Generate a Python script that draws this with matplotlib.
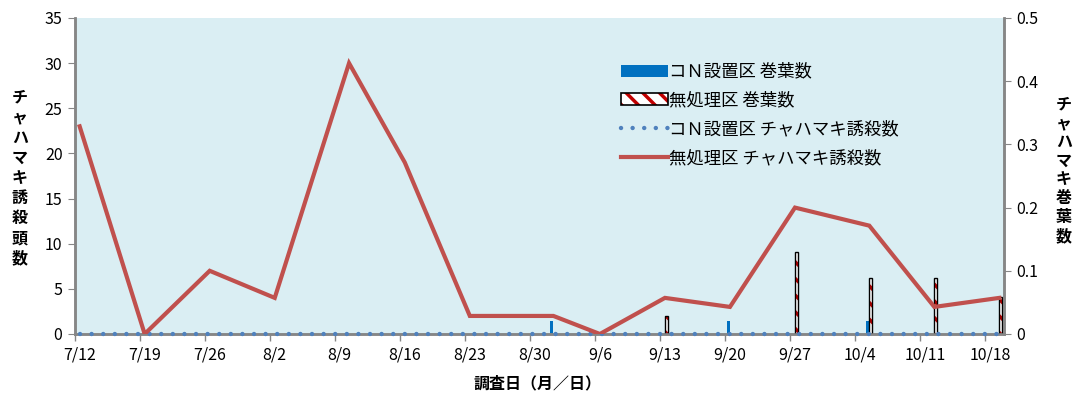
"""
Chahamaki (tea tortrix) trap catch and rolled-leaf counts,
CN-treated plot vs. untreated plot, 7/12 - 10/19.
"""

import pandas as pd
import matplotlib.pyplot as plt
from matplotlib.patches import Patch
from matplotlib.lines import Line2D
from matplotlib.legend_handler import HandlerTuple

plt.rcParams['font.family'] = ['Noto Sans CJK JP', 'DejaVu Sans']
plt.rcParams['hatch.linewidth'] = 2.5

# Survey dates (month/day)
dates = ["7/12", "7/19", "7/26", "8/2", "8/10", "8/16", "8/23", "9/1",
         "9/6", "9/13", "9/20", "9/27", "10/5", "10/12", "10/19"]
# Trap catches (left axis)
cn_moths = [0, 0, 0, 0, 0, 0, 0, 0, 0, 0, 0, 0, 0, 0, 0]
untreated_moths = [23, 0, 7, 4, 30, 19, 2, 2, 0, 4, 3, 14, 12, 3, 4]
# Rolled leaves (right axis)
cn_leaves = [0, 0, 0, 0, 0, 0, 0, 0.02, 0, 0, 0.02, 0, 0.02, 0, 0]
untreated_leaves = [0, 0, 0, 0, 0, 0, 0, 0, 0, 0.029, 0, 0.129, 0.089, 0.089, 0.059]
# Axis tick labels (weekly)
tick_labels = ["7/12", "7/19", "7/26", "8/2", "8/9", "8/16", "8/23", "8/30",
               "9/6", "9/13", "9/20", "9/27", "10/4", "10/11", "10/18"]

start = pd.Timestamp("2013-07-12")
x = [(pd.Timestamp(f"2013/{d}") - start).days for d in dates]
tick_x = [(pd.Timestamp(f"2013/{d}") - start).days for d in tick_labels]

fig = plt.figure(figsize=(10.75, 3.94), dpi=100)
ax2 = fig.add_subplot(111)
ax = ax2.twinx()
fig.subplots_adjust(left=75/1075, right=1004/1075, top=1-18/394, bottom=1-334/394)

# bars on the right-hand axis (drawn behind the lines)
ax2.set_facecolor("#DAEEF3")
bw = 0.32
bx = [v - 0.16 for v, h in zip(x, cn_leaves) if h > 0]
bh = [h for h in cn_leaves if h > 0]
ax2.bar(bx, bh, width=bw, color="#0070C0", zorder=2)
rx = [v + 0.16 for v, h in zip(x, untreated_leaves) if h > 0]
rh = [h for h in untreated_leaves if h > 0]
ax2.bar(rx, rh, width=bw, facecolor="white", edgecolor="#C00000", hatch="\\\\", linewidth=0, zorder=2)
ax2.bar(rx, rh, width=bw, fill=False, edgecolor="black", linewidth=1, zorder=3)

# lines on the left-hand axis
dots = (0, (0.01, 2.6))
ax.set_zorder(ax2.get_zorder() + 1)
ax.patch.set_visible(False)
ax.plot(x, cn_moths, color="#4F81BD", linewidth=3.2, linestyle=dots,
        dash_capstyle="round", zorder=4, clip_on=False)
ax.plot(x, untreated_moths, color="#C0504D", linewidth=3, zorder=5,
        solid_joinstyle="miter")

# swap sides so the count axis is on the left
ax.yaxis.tick_left()
ax.yaxis.set_label_position("left")
ax2.yaxis.tick_right()
ax2.yaxis.set_label_position("right")

ax.set_ylim(0, 35)
ax.set_yticks(range(0, 36, 5))
ax2.set_ylim(0, 0.5)
ax2.set_yticks([0, 0.1, 0.2, 0.3, 0.4, 0.5])
ax2.set_yticklabels(["0", "0.1", "0.2", "0.3", "0.4", "0.5"])
ax2.set_xlim(-0.5, 99.5)
ax2.set_xticks(tick_x)
ax2.set_xticklabels(tick_labels)
ax2.set_xticks([t - 0.5 for t in tick_x], minor=True)
ax2.tick_params(axis="x", which="major", length=0, pad=9, labelsize=11.5)
ax2.tick_params(axis="x", which="minor", length=5, color="#868686", width=1)
ax2.tick_params(axis="y", length=5, color="#868686", labelsize=11.5, pad=4)
ax.tick_params(axis="y", length=5, color="#868686", labelsize=11.5, pad=4)

for a in (ax, ax2):
    a.spines["top"].set_visible(False)
    for s in ("left", "right", "bottom"):
        a.spines[s].set_color("#868686")
        a.spines[s].set_linewidth(1.8)

# stacked vertical axis titles
fig.text(20/1075, 1-178/394, "\n".join("チャハマキ誘殺頭数"), ha="center", va="center",
         fontsize=11.5, fontweight="bold", linespacing=1.32)
fig.text(1064/1075, 1-170/394, "\n".join("チャハマキ巻葉数"), ha="center", va="center",
         fontsize=11.5, fontweight="bold", linespacing=1.22)
fig.text(538/1075, 1-383/394, "調査日（月／日）", ha="center", va="center",
         fontsize=11.5, fontweight="bold")

handles = [
    Patch(facecolor="#0070C0", edgecolor="none"),
    (Patch(facecolor="white", edgecolor="#C00000", hatch="\\\\", linewidth=0),
     Patch(fill=False, edgecolor="black", linewidth=1.2)),
    Line2D([], [], color="#4F81BD", linewidth=3.2, linestyle=dots, dash_capstyle="round"),
    Line2D([], [], color="#C0504D", linewidth=3),
]
labels = ["コＮ設置区 巻葉数", "無処理区 巻葉数", "コＮ設置区 チャハマキ誘殺数", "無処理区 チャハマキ誘殺数"]
ax.legend(handles, labels, loc="upper left", bbox_to_anchor=(612/1075, 1-54/394),
          bbox_transform=fig.transFigure, frameon=False, fontsize=12.5,
          handlelength=2.75, handleheight=0.7, handletextpad=0.05, labelspacing=0.62,
          borderpad=0, handler_map={tuple: HandlerTuple(ndivide=1, pad=0)})

plt.savefig("out.png", dpi=100)
plt.close()
